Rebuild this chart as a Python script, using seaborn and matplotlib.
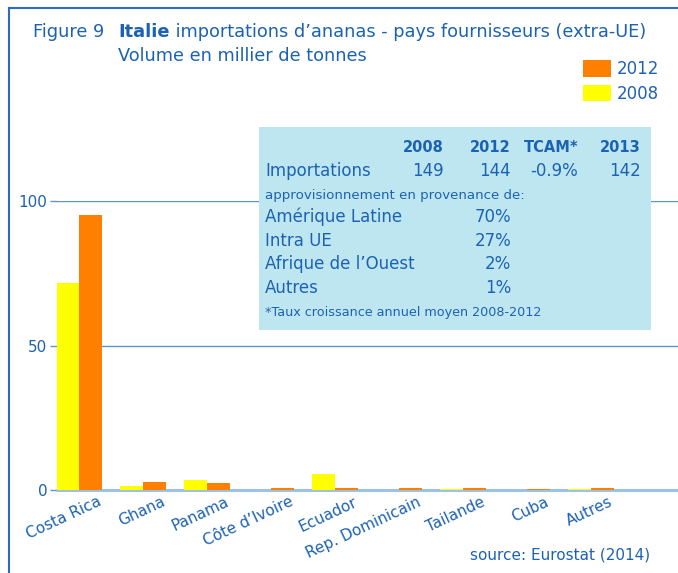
import pandas as pd
import matplotlib.pyplot as plt
import matplotlib.transforms as mtransforms
from matplotlib.patches import Rectangle, Patch
from matplotlib.lines import Line2D
import seaborn as sns

pays = ['Costa Rica', 'Ghana', 'Panama', "Côte d’Ivoire", 'Ecuador',
        'Rep. Dominicain', 'Tailande', 'Cuba', 'Autres']
vol_2008 = [71.7, 1.5, 3.6, 0.0, 5.6, 0.0, 0.5, 0.0, 0.5]
vol_2012 = [95.2, 2.7, 2.5, 0.6, 0.6, 0.6, 0.6, 0.4, 0.6]
annees = ['2008', '2012']

table_cols = ['2008', '2012', 'TCAM*', '2013']
table_import = ['149', '144', '-0.9%', '142']
prov_labels = ['Amérique Latine', 'Intra UE', "Afrique de l’Ouest", 'Autres']
prov_parts = ['70%', '27%', '2%', '1%']

df = pd.DataFrame({
    'pays': pays * 2,
    'volume': vol_2008 + vol_2012,
    'annee': ['2008'] * len(pays) + ['2012'] * len(pays),
})

BLUE = '#1c62b3'
W, H = 678, 573
plt.rcParams['font.family'] = 'DejaVu Sans'

fig = plt.figure(figsize=(W / 100, H / 100), dpi=100)


def fx(x):
    return x / W


def fy(y):
    return 1 - y / H


ax = fig.add_axes([fx(57), fy(490), (W - 57) / W, 289 / H])
sns.barplot(data=df, x='pays', y='volume', hue='annee', order=pays,
            hue_order=annees, palette={'2008': '#ffff00', '2012': '#ff8000'},
            width=0.72, saturation=1, legend=False, linewidth=0, ax=ax, zorder=3)

ax.set_xlim(-0.344, 9.36)
ax.set_ylim(0, 100)
ax.set_yticks([0, 50, 100])
ax.set_xlabel('')
ax.set_ylabel('')
for s in ax.spines.values():
    s.set_visible(False)
ax.yaxis.grid(True, color='#5b95d2', lw=1)
ax.set_axisbelow(True)
ax.axhline(0, color='#9cc2e8', lw=2.2, zorder=2, clip_on=False)
ax.tick_params(axis='y', length=5, width=1, color='#5b95d2', labelcolor=BLUE,
               labelsize=11, pad=2)
ax.tick_params(axis='x', length=0, labelcolor=BLUE, labelsize=11, pad=3)
offset = mtransforms.ScaledTranslation(18 / 100, 0, fig.dpi_scale_trans)
for lab in ax.get_xticklabels():
    lab.set_rotation(25)
    lab.set_ha('right')
    lab.set_rotation_mode('anchor')
    lab.set_transform(lab.get_transform() + offset)

# frame
fig.add_artist(Line2D([fx(9), fx(9)], [fy(8), 0], color='#2a6cc0', lw=1.5))
fig.add_artist(Line2D([fx(9), 1], [fy(8), fy(8)], color='#2a6cc0', lw=1.5))

# title
fig.text(fx(33), fy(37), 'Figure 9', color=BLUE, fontsize=12.8, va='baseline')
t_bold = fig.text(fx(118), fy(37), 'Italie', color=BLUE, fontsize=12.8,
                  fontweight='bold', va='baseline')
fig.canvas.draw()
bb = t_bold.get_window_extent()
fig.text(bb.x1 / W, fy(37), ' importations d’ananas - pays fournisseurs (extra-UE)',
         color=BLUE, fontsize=12.8, va='baseline')
fig.text(fx(118), fy(61), 'Volume en millier de tonnes', color=BLUE,
         fontsize=12.8, va='baseline')

# legend
handles = [Patch(facecolor='#ff8000', edgecolor='none'),
           Patch(facecolor='#ffff00', edgecolor='none')]
fig.legend(handles, ['2012', '2008'], loc='upper left',
           bbox_to_anchor=(fx(583), fy(60)), frameon=False, fontsize=12,
           handlelength=1.7, handleheight=1.15, labelspacing=0.4,
           handletextpad=0.35, borderpad=0, borderaxespad=0, labelcolor=BLUE)

# table box
fig.add_artist(Rectangle((fx(259), fy(330)), 392 / W, 203 / H,
                         transform=fig.transFigure, facecolor='#bee6f0',
                         edgecolor='none', zorder=5))
col_x = [444, 511, 578, 641]
for cx, c in zip(col_x, table_cols):
    fig.text(fx(cx), fy(152), c, color=BLUE, fontsize=10.5, fontweight='bold',
             ha='right', va='baseline', zorder=6)
fig.text(fx(265), fy(176), 'Importations', color=BLUE, fontsize=12,
         va='baseline', zorder=6)
for cx, v in zip(col_x, table_import):
    fig.text(fx(cx), fy(176), v, color=BLUE, fontsize=12, ha='right',
             va='baseline', zorder=6)
fig.text(fx(265), fy(199), 'approvisionnement en provenance de:', color=BLUE,
         fontsize=9.6, va='baseline', zorder=6)
for i, (lab, part) in enumerate(zip(prov_labels, prov_parts)):
    yy = 222 + i * 23.7
    fig.text(fx(265), fy(yy), lab, color=BLUE, fontsize=12, va='baseline', zorder=6)
    fig.text(fx(511), fy(yy), part, color=BLUE, fontsize=12, ha='right',
             va='baseline', zorder=6)
fig.text(fx(265), fy(316), '*Taux croissance annuel moyen 2008-2012', color=BLUE,
         fontsize=9.2, va='baseline', zorder=6)

fig.text(fx(650), fy(560), 'source: Eurostat (2014)', color=BLUE, fontsize=11,
         ha='right', va='baseline')

fig.savefig('out.png', dpi=100)
